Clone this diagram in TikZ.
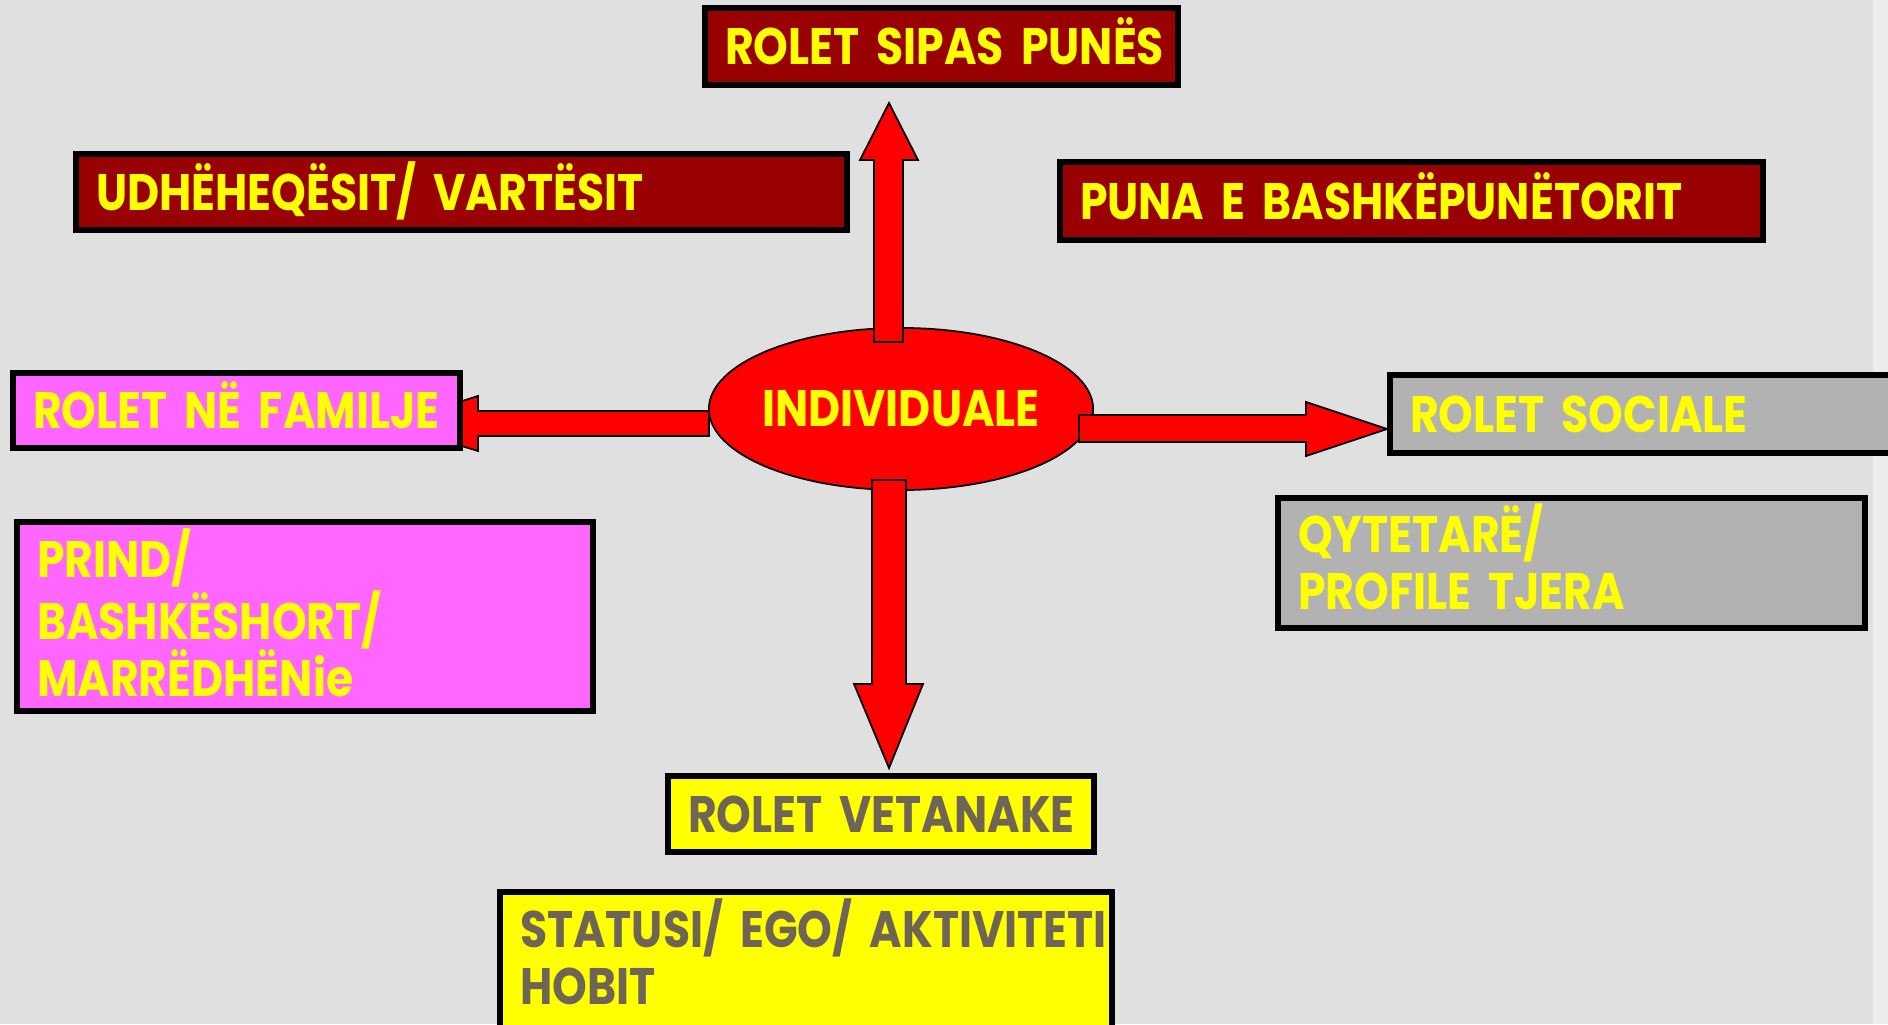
\documentclass[tikz,border=0pt]{standalone}
\usepackage{fontspec}
\newfontfamily\rolefont[FakeStretch=0.86]{Poppins}
\usetikzlibrary{positioning,shapes.geometric}
\definecolor{bggray}{HTML}{E0E0E0}
\definecolor{edgegray}{HTML}{ECECEC}
\definecolor{darkred}{HTML}{990000}
\definecolor{rolepink}{HTML}{FF66FF}
\definecolor{rolegray}{HTML}{B2B2B2}
\definecolor{roleyellow}{HTML}{FFFF00}
\definecolor{roletext}{HTML}{6F6556}
\lineskiplimit=-20pt
\hyphenpenalty=10000
\exhyphenpenalty=10000
\newcommand\rolesel{\rolefont\bfseries\fontsize{14.6pt}{16.2pt}\selectfont\setlength\spaceskip{0.2em}}

\begin{document}
\begin{tikzpicture}[
    x=0.01cm,y=-0.01cm,
    rolebox/.style={
      draw=black,
      line width=0.06cm,
      anchor=north west,
      outer sep=0pt,
      inner xsep=0.2cm,
      inner ysep=0pt,
      align=left,
      text height=0.36cm,
      font=\rolesel,
      text=roleyellow
    },
    lines/.style={text depth=#1},
    workbox/.style={rolebox, fill=darkred},
    familybox/.style={rolebox, fill=rolepink},
    socialbox/.style={rolebox, fill=rolegray},
    selfbox/.style={rolebox, fill=roleyellow, text=roletext},
    hub/.style={
      draw=black,
      ellipse,
      fill=red,
      line width=0.5pt,
      inner xsep=-0.1cm,
      inner ysep=0pt,
      minimum width=3.84cm,
      minimum height=1.62cm,
      font=\rolesel,
      text=roleyellow
    },
    blockarrow/.style={draw=black, line width=0.5pt, fill=red, line join=miter}
    ]
    \useasboundingbox (0,0) rectangle (1888,1024);
    \fill[bggray] (0,0) rectangle (1888,1024);
    \fill[edgegray] (1873,0) rectangle (1888,1024);

    % centre
    \node[hub] (ind) at (901,409) {INDIVIDUALE};

    % arrows out of the centre
    \coordinate (tipwork) at (889,103);
    \coordinate (tipself) at (889,768);
    \coordinate (tipsocial) at (1387,429);
    \coordinate (tipfamily) at (390,424);
    \draw[blockarrow] (tipwork) -- ++(29,57) -- ++(-15,0) -- ++(0,182)
      -- ++(-29,0) -- ++(0,-182) -- ++(-14,0) -- cycle;
    \draw[blockarrow] (tipself) -- ++(34,-84) -- ++(-17,0) -- ++(0,-204)
      -- ++(-34,0) -- ++(0,204) -- ++(-18,0) -- cycle;
    \draw[blockarrow] (tipsocial) -- ++(-81,-27) -- ++(0,13) -- ++(-227,0)
      -- ++(0,27) -- ++(227,0) -- ++(0,14) -- cycle;
    \draw[blockarrow] (tipfamily) -- ++(88,-28) -- ++(0,15) -- ++(231,0)
      -- ++(0,25) -- ++(-231,0) -- ++(0,15) -- cycle;

    % roles
    \node[workbox,lines=0pt,minimum width=4.73cm,text width=4.33cm,minimum height=0.77cm]
      (work) at (705,8) {\mbox{ROLET SIPAS PUNËS}};
    \node[workbox,lines=0pt,minimum width=7.71cm,text width=7.31cm,minimum height=0.76cm]
      (leaders) at (76,154) {\mbox{UDHËHEQËSIT/ VARTËSIT}};
    \node[workbox,lines=0pt,minimum width=7.03cm,text width=6.63cm,minimum height=0.78cm]
      (colleague) at (1060,162) {\mbox{PUNA E BASHKËPUNËTORIT}};
    \node[familybox,lines=0pt,minimum width=4.47cm,text width=4.07cm,minimum height=0.75cm]
      (family) at (13,373) {\mbox{ROLET NË FAMILJE}};
    \node[familybox,lines=1.14cm,minimum width=5.76cm,text width=5.36cm,minimum height=1.89cm]
      (parent) at (17,522) {PRIND/\\BASHKËSHORT/\\MARRËDHËNie};
    \node[socialbox,lines=0pt,minimum width=5.10cm,text width=4.70cm,minimum height=0.78cm]
      (social) at (1390,375) {\mbox{ROLET SOCIALE}};
    \node[socialbox,lines=0.57cm,minimum width=5.87cm,text width=5.47cm,minimum height=1.30cm]
      (citizen) at (1278,498) {QYTETARË/\\\mbox{PROFILE TJERA}};
    \node[selfbox,lines=0pt,minimum width=4.26cm,text width=3.86cm,minimum height=0.76cm]
      (self) at (668,776) {\mbox{ROLET VETANAKE}};
    \node[selfbox,lines=0.69cm,minimum width=6.12cm,text width=5.72cm,minimum height=1.43cm]
      (status) at (500,892) {\mbox{STATUSI/ EGO/ AKTIVITETI}\\HOBIT};
\end{tikzpicture}
\end{document}
